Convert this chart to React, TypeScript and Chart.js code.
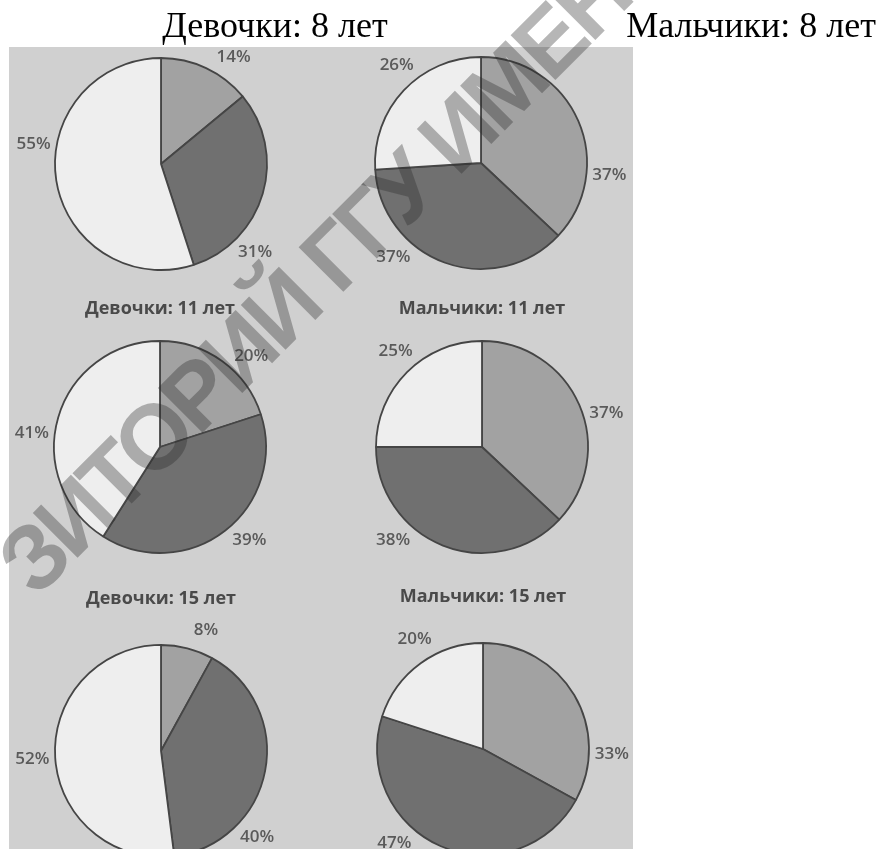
import React, { useEffect, useRef } from "react";
import { Chart, registerables } from "chart.js";

Chart.register(...registerables);

// ---- data ----
const sliceLabels = ["Группа 1", "Группа 2", "Группа 3"];
const girls8 = [14, 31, 55];
const boys8 = [37, 37, 26];
const girls11 = [20, 39, 41];
const boys11 = [37, 38, 25];
const girls15 = [8, 40, 52];
const boys15 = [33, 47, 20];

const pageTitles = ["Девочки: 8 лет", "Мальчики: 8 лет"];
const chartTitles = ["", "", "Девочки: 11 лет", "Мальчики: 11 лет", "Девочки: 15 лет", "Мальчики: 15 лет"];

// ---- layout / style ----
const sliceColors = ["#a2a2a2", "#707070", "#eeeeee"];
const RADIUS = 106;
const CANVAS = 320;
// label angular nudges (deg) imitating the spreadsheet's "best fit" placement
const labelNudges = [
  [9, 27, 18],
  [29, 23, 6],
  [9, -6, -10],
  [8, 22, 3],
  [6, 31, 0],
  [33, 20, 4],
];
const titleGaps = [0, 0, 32, 32, 46, 46];
const centers = [
  [161, 164],
  [481, 163],
  [160, 447],
  [482, 447],
  [161, 751],
  [483, 749],
];

const decorPlugin = {
  id: "pieDecor",
  afterDatasetsDraw(chart: any, _args: any, opts: any) {
    const ctx = chart.ctx;
    const meta = chart.getDatasetMeta(0);
    const values: number[] = chart.data.datasets[0].data;
    let cx = 0, cy = 0, r = 0;
    ctx.save();
    ctx.font = '600 17px "Open Sans"';
    ctx.fillStyle = "#5a5a5a";
    ctx.textAlign = "center";
    ctx.textBaseline = "middle";
    meta.data.forEach((arc: any, i: number) => {
      const p = arc.getProps(["x", "y", "startAngle", "endAngle", "outerRadius"], true);
      cx = p.x; cy = p.y; r = p.outerRadius;
      const mid = (p.startAngle + p.endAngle) / 2 + ((opts.nudges?.[i] || 0) * Math.PI) / 180;
      const d = p.outerRadius + 23;
      ctx.fillText(values[i] + "%", p.x + Math.cos(mid) * d, p.y + Math.sin(mid) * d);
    });
    if (opts.title) {
      ctx.font = 'bold 18px "Open Sans"';
      ctx.fillStyle = "#4a4a4a";
      ctx.fillText(opts.title, cx, cy - r - opts.titleGap);
    }
    ctx.restore();
  },
};

function PieChart({ values, idx }: { values: number[]; idx: number }) {
  const ref = useRef<HTMLCanvasElement>(null);
  useEffect(() => {
    if (!ref.current) return;
    const chart = new Chart(ref.current, {
      type: "pie",
      data: {
        labels: sliceLabels,
        datasets: [
          {
            data: values,
            backgroundColor: sliceColors,
            borderColor: "#454545",
            borderWidth: 1.8,
            radius: RADIUS,
          } as any,
        ],
      },
      options: {
        responsive: false,
        animation: false,
        devicePixelRatio: 1,
        layout: { padding: 0 },
        plugins: {
          legend: { display: false },
          tooltip: { enabled: false },
          pieDecor: { nudges: labelNudges[idx], title: chartTitles[idx], titleGap: titleGaps[idx] },
        } as any,
      },
      plugins: [decorPlugin],
    });
    return () => chart.destroy();
  }, [values, idx]);
  const [cx, cy] = centers[idx];
  return (
    <canvas
      ref={ref}
      width={CANVAS}
      height={CANVAS}
      style={{ position: "absolute", left: cx - CANVAS / 2, top: cy - CANVAS / 2, width: CANVAS, height: CANVAS }}
    />
  );
}

const allSeries = [girls8, boys8, girls11, boys11, girls15, boys15];

const headStyle: React.CSSProperties = {
  position: "absolute",
  top: 7,
  width: 320,
  textAlign: "center",
  font: '36px "Liberation Serif"',
  lineHeight: "36px",
  color: "#000",
  whiteSpace: "nowrap",
};

export default function App() {
  return (
    <div
      style={{
        position: "absolute",
        left: 0,
        top: 0,
        width: 885,
        height: 849,
        overflow: "hidden",
        background: "#ffffff",
      }}
    >
      <div style={{ position: "absolute", left: 9, top: 47, width: 624, height: 802, background: "#d0d0d0" }} />
      {allSeries.map((s, i) => (
        <PieChart key={i} values={s} idx={i} />
      ))}
      <div style={{ ...headStyle, left: 275 - 160 }}>{pageTitles[0]}</div>
      <div style={{ ...headStyle, left: 751 - 160 }}>{pageTitles[1]}</div>
      <div
        style={{
          position: "absolute",
          left: -19,
          top: 544,
          transform: "rotate(-45deg)",
          transformOrigin: "0 0",
          font: 'bold 92px "Liberation Sans"',
          lineHeight: "92px",
          letterSpacing: "-5px",
          color: "rgba(40,40,40,0.34)",
          whiteSpace: "nowrap",
          pointerEvents: "none",
        }}
      >
        ЗИТОРИЙ ГГУ ИМЕНИ Ф. СКОРИНЫ
      </div>
    </div>
  );
}
